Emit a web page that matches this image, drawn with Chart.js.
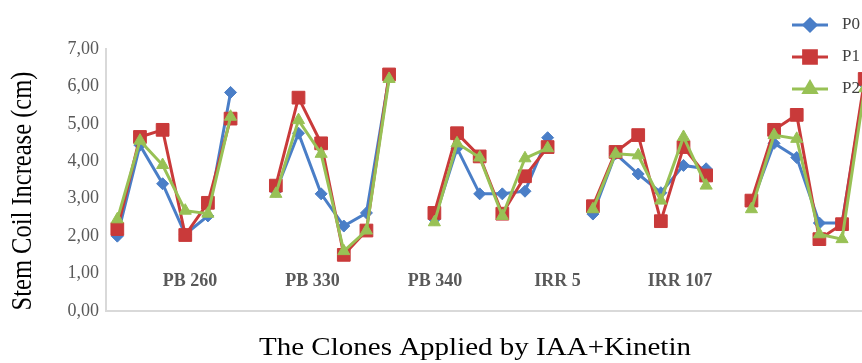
<!DOCTYPE html>
<html>
<head>
<meta charset="utf-8">
<script src="https://cdn.jsdelivr.net/npm/chart.js@4.4.1/dist/chart.umd.min.js"></script>
<style>
  html, body { margin: 0; padding: 0; background: #fff; overflow: hidden; }
  #wrap { width: 890px; height: 363px; }
</style>
</head>
<body>
<div id="wrap"><canvas id="coilChart"></canvas></div>
<script>
// clone groups shown on the chart (the 6 points of each group are separated by a gap)
const groupNames = ['PB 260', 'PB 330', 'PB 340', 'IRR 5', 'IRR 107'];
const categories = [
  'PB 260-1', 'PB 260-2', 'PB 260-3', 'PB 260-4', 'PB 260-5', 'PB 260-6', '',
  'PB 330-1', 'PB 330-2', 'PB 330-3', 'PB 330-4', 'PB 330-5', 'PB 330-6', '',
  'PB 340-1', 'PB 340-2', 'PB 340-3', 'PB 340-4', 'PB 340-5', 'PB 340-6', '',
  'IRR 5-1', 'IRR 5-2', 'IRR 5-3', 'IRR 5-4', 'IRR 5-5', 'IRR 5-6', '',
  'IRR 107-1', 'IRR 107-2', 'IRR 107-3', 'IRR 107-4', 'IRR 107-5', 'IRR 107-6'
];

const p0 = [2.00, 4.43, 3.40, 2.05, 2.54, 5.84, null,
            3.20, 4.75, 3.13, 2.27, 2.62, 6.25, null,
            2.45, 4.35, 3.13, 3.13, 3.20, 4.63, null,
            2.59, 4.20, 3.66, 3.16, 3.89, 3.80, null,
            2.85, 4.48, 4.10, 2.35, 2.35, 6.05];
const p1 = [2.19, 4.65, 4.84, 2.03, 2.89, 5.14, null,
            3.35, 5.70, 4.48, 1.50, 2.15, 6.32, null,
            2.62, 4.75, 4.13, 2.60, 3.60, 4.38, null,
            2.80, 4.25, 4.70, 2.40, 4.38, 3.62, null,
            2.95, 4.84, 5.24, 1.92, 2.32, 6.20];
const p2 = [2.45, 4.55, 3.90, 2.68, 2.60, 5.19, null,
            3.13, 5.10, 4.20, 1.60, 2.15, 6.20, null,
            2.37, 4.48, 4.10, 2.54, 4.08, 4.35, null,
            2.72, 4.20, 4.16, 2.95, 4.65, 3.35, null,
            2.72, 4.70, 4.60, 2.05, 1.92, 5.95];

const yTicks = [0, 1, 2, 3, 4, 5, 6, 7];
const xTitle = 'The Clones Applied by IAA+Kinetin';
const yTitle = 'Stem Coil Increase (cm)';

const serif = '"Liberation Serif", "DejaVu Serif", serif';

// group names inside the plot, axis titles and the legend at the top right
const annotations = {
  id: 'annotations',
  afterDatasetsDraw(chart, args, opts) {
    const c = chart.ctx;
    const x = chart.scales.x, y = chart.scales.y;
    c.save();
    c.font = 'bold 18px ' + serif;
    c.fillStyle = '#595959';
    c.textAlign = 'center';
    c.textBaseline = 'middle';
    groupNames.forEach((name, i) => {
      c.fillText(name, x.getPixelForValue(opts.labelStart + i * opts.labelStep), y.getPixelForValue(0.8));
    });

    // axis titles (the original picture is slightly stretched sideways)
    c.fillStyle = '#000';
    c.font = '25px ' + serif;
    c.save();
    c.translate(opts.xTitleX, opts.xTitleY);
    c.scale(opts.stretch, 1);
    c.fillText(xTitle, 0, 0);
    c.restore();

    c.font = '24.5px ' + serif;
    c.save();
    c.translate(opts.yTitleX, opts.yTitleY);
    c.scale(opts.stretch, 1);
    c.rotate(-Math.PI / 2);
    c.fillText(yTitle, 0, 0);
    c.restore();

    c.font = '17px ' + serif;
    c.textAlign = 'left';
    chart.data.datasets.forEach((ds, i) => {
      const ly = opts.legendY + i * 32;
      c.strokeStyle = ds.borderColor;
      c.lineWidth = 3;
      c.beginPath();
      c.moveTo(opts.legendX, ly);
      c.lineTo(opts.legendX + 36, ly);
      c.stroke();
      Chart.helpers.drawPoint(c, {
        pointStyle: ds.pointStyle, radius: ds.pointRadius, borderWidth: 1
      }, opts.legendX + 18, ly);
      c.fillStyle = ds.backgroundColor;
      c.fill();
      c.fillStyle = '#404040';
      c.fillText(ds.label, opts.legendX + 50, ly);
    });
    c.restore();
  }
};

new Chart(document.getElementById('coilChart'), {
  type: 'line',
  data: {
    labels: categories,
    datasets: [
      { label: 'P0', data: p0, borderColor: '#4A7EC7', backgroundColor: '#4A7EC7',
        pointStyle: 'rectRot', pointRadius: 6, order: 2 },
      { label: 'P1', data: p1, borderColor: '#C93A3A', backgroundColor: '#C93A3A',
        pointStyle: 'rect', pointRadius: 9, order: 1 },
      { label: 'P2', data: p2, borderColor: '#98C155', backgroundColor: '#98C155',
        pointStyle: 'triangle', pointRadius: 7, order: 0 }
    ]
  },
  options: {
    responsive: true,
    maintainAspectRatio: false,
    animation: false,
    spanGaps: false,
    layout: { padding: { top: 49, right: 14, left: 0, bottom: 0 } },
    elements: {
      line: { borderWidth: 3, tension: 0 },
      point: { borderWidth: 1, hoverRadius: 6 }
    },
    plugins: {
      legend: { display: false },
      tooltip: { enabled: false },
      annotations: {
        labelStart: 3.21, labelStep: 5.41, legendX: 792, legendY: 25,
        xTitleX: 475, xTitleY: 348, yTitleX: 24, yTitleY: 191, stretch: 1.16
      }
    },
    scales: {
      x: {
        offset: true,
        grid: { display: false, drawTicks: false },
        border: { display: true, color: '#d9d9d9', width: 2 },
        ticks: { display: false },
        afterFit(scale) { scale.height = 52; }
      },
      y: {
        min: 0, max: 7,
        grid: { display: false, drawTicks: false },
        border: { display: true, color: '#d9d9d9', width: 2 },
        afterBuildTicks(scale) { scale.ticks = yTicks.map(v => ({ value: v })); },
        ticks: {
          padding: 7, color: '#595959', font: { family: serif, size: 18 },
          callback: v => v.toFixed(2).replace('.', ',')
        },
        afterFit(scale) { scale.width = 106; }
      }
    }
  },
  plugins: [annotations]
});
</script>
</body>
</html>
